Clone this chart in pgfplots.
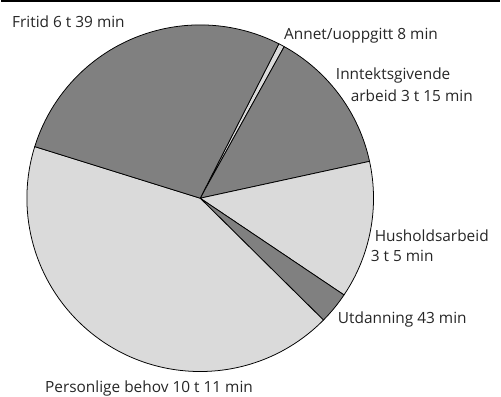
\documentclass[border=0pt]{standalone}
\usepackage{pgfplots}
\pgfplotsset{compat=1.18}
\usepackage{pgfplotstable}
\usepackage{fontspec}
\setmainfont{Open Sans}
\definecolor{darkg}{HTML}{808080}
\definecolor{lightg}{HTML}{DADADA}
% minutes per day
\pgfplotstableread{
cat min
Annet 8
Inntekt 195
Hushold 185
Utdanning 43
Personlige 611
Fritid 399
}\timetable
\begin{document}
\begin{tikzpicture}[lab/.style={anchor=west, font=\fontsize{11}{13}\selectfont, inner sep=0pt, text=black!85}]
\def\fac{0.249827} % 360/1441 degrees per minute
\def\r{4.35cm}
% slice: #1 cumulative start minutes, #2 cumulative end minutes, #3 colour
\newcommand\slice[3]{%
  \filldraw[fill=#3, draw=black, line width=0.55pt, line join=round]
    (axis cs:200,201) -- (axis cs:{200+174*cos(63-#1*\fac)},{201+174*sin(63-#1*\fac)})
    arc[start angle={63-#1*\fac}, end angle={63-#2*\fac}, radius=\r] -- cycle;}
\begin{axis}[
  scale only axis, width=12.525cm, height=10cm,
  xmin=0, xmax=501, ymin=0, ymax=400,
  hide axis, clip=false,
]
\slice{0}{8}{lightg}
\slice{8}{203}{darkg}
\slice{203}{388}{lightg}
\slice{388}{431}{darkg}
\slice{431}{1042}{lightg}
\slice{1042}{1441}{darkg}
\draw[line width=1.4pt] (axis cs:0,399) -- (axis cs:501,399);
\node[lab] at (axis cs:11,378) {Fritid 6 t 39 min};
\node[lab] at (axis cs:284,364) {Annet/uoppgitt 8 min};
\node[lab] at (axis cs:336,324) {Inntektsgivende};
\node[lab] at (axis cs:351,304) {arbeid 3 t 15 min};
\node[lab] at (axis cs:375,163) {Husholdsarbeid};
\node[lab] at (axis cs:371,143) {3 t 5 min};
\node[lab] at (axis cs:338,79) {Utdanning 43 min};
\node[lab] at (axis cs:44,10) {Personlige behov 10 t 11 min};
\end{axis}
\end{tikzpicture}
\end{document}
